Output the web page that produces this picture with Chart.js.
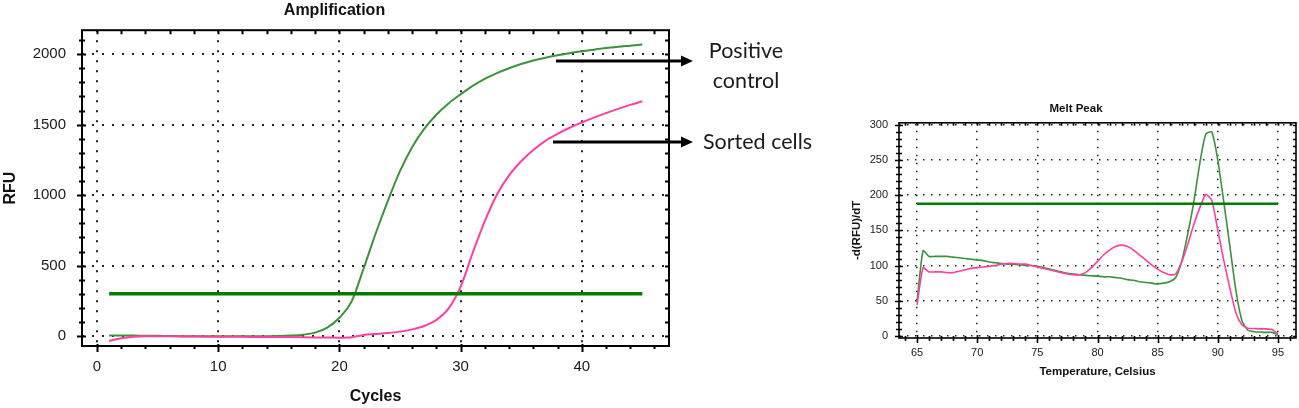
<!DOCTYPE html>
<html>
<head>
<meta charset="utf-8">
<script src="https://cdn.jsdelivr.net/npm/chart.js@4.4.1/dist/chart.umd.min.js"></script>
<style>
  html, body { margin: 0; padding: 0; background: #fff; overflow: hidden; }
  #page { position: relative; width: 1299px; height: 408px; }
  #amp { position: absolute; left: 0; top: 0; }
  #melt { position: absolute; left: 845px; top: 96px; }
  svg { position: absolute; left: 0; top: 0; }
  .note { position: absolute; font-family: Lato, "Open Sans", sans-serif; font-size: 21.5px; line-height: 30px; color: #1a1a1a; white-space: nowrap; }
</style>
</head>
<body>
<div id="page">
  <canvas id="amp" width="680" height="408"></canvas>
  <canvas id="melt" width="454" height="290"></canvas>
  <svg width="1299" height="408">
    <line x1="556" y1="61" x2="683" y2="61" stroke="#000" stroke-width="3"/>
    <polygon points="681,55.5 693,61 681,66.5" fill="#000"/>
    <line x1="553" y1="142" x2="683" y2="142" stroke="#000" stroke-width="3"/>
    <polygon points="681,136.5 693,142 681,147.5" fill="#000"/>
  </svg>
  <div class="note" style="left:696px; top:35px; width:100px; text-align:center">Positive<br>control</div>
  <div class="note" style="left:703px; top:126px">Sorted cells</div>
</div>
<script>
// amplification run
const cycles = [1, 2, 3, 4, 5, 6, 7, 8, 9, 10, 11, 12, 13, 14, 15, 16, 17, 18, 19, 20, 21, 22, 23,
  24, 25, 26, 27, 28, 29, 30, 31, 32, 33, 34, 35, 36, 37, 38, 39, 40, 41, 42, 43, 44, 45];
const positiveControl = [5, 5, 4, 3, 2, 1, 0, 0, 0, 0, 0, 0, 0, 0, 1, 4, 10, 25, 60, 130, 245, 480, 730,
  960, 1170, 1340, 1470, 1570, 1650, 1715, 1775, 1825, 1865, 1900, 1930, 1955, 1975, 1992, 2007, 2020, 2032, 2043, 2052, 2060, 2068];
const sortedCells = [-35, -15, -4, 0, 0, -1, -2, -3, -4, -4, -5, -5, -6, -6, -6, -7, -8, -9, -10, -11, -8, 8, 15,
  22, 32, 48, 72, 115, 195, 350, 590, 815, 1005, 1140, 1240, 1320, 1385, 1435, 1478, 1515, 1550, 1582, 1612, 1640, 1666];
const ampThreshold = 300;
const ampXTicks = [0, 10, 20, 30, 40];
const ampYTicks = [0, 500, 1000, 1500, 2000];

// melt curve
const temps = [65, 65.5, 66, 66.5, 67, 67.5, 68, 68.5, 69, 69.5, 70, 70.5, 71, 71.5, 72, 72.5, 73, 73.5, 74, 74.5,
  75, 75.5, 76, 76.5, 77, 77.5, 78, 78.5, 79, 79.5, 80, 80.5, 81, 81.5, 82, 82.5, 83, 83.5, 84, 84.5,
  85, 85.5, 86, 86.5, 87, 87.5, 88, 88.5, 89, 89.5, 90, 90.5, 91, 91.5, 92, 92.5, 93, 93.5, 94, 94.5, 95];
const meltPositive = [48, 121, 113, 113, 113, 113, 112, 111, 110, 109, 108, 107, 105, 104, 103, 102, 102, 101, 100, 100,
  99, 97, 95, 93, 91, 89, 88, 87, 86, 85.5, 85, 84, 84, 83, 82, 80, 79, 77, 76, 75,
  74, 75, 77, 83, 106, 145, 190, 245, 287, 290, 250, 190, 128, 65, 22, 8, 6, 5.5, 5, 5, 2];
const meltSorted = [44, 97, 91, 91, 91, 90, 90, 92, 94, 96, 97, 98, 99, 100, 102, 103, 103, 102, 102, 100,
  98, 96, 94, 92, 90, 88, 87, 87, 90, 97, 106, 115, 122, 127, 129, 127, 122, 115, 108, 101,
  95, 90, 87, 88, 105, 130, 158, 182, 201, 193, 150, 107, 68, 33, 16, 11, 10.5, 10, 10, 9, 3];
const meltThreshold = 188;
const meltXTicks = [65, 70, 75, 80, 85, 90, 95];
const meltYTicks = [0, 50, 100, 150, 200, 250, 300];

const GREEN = '#3a933a';
const PINK = '#ff3f9f';
const LINE_GREEN = '#007a00';
const FONT = '"Liberation Sans", Arial, sans-serif';

Chart.defaults.color = '#1a1a1a';
Chart.defaults.font.family = FONT;

const pts = (xs, ys) => xs.map((x, i) => ({ x: x, y: ys[i] }));
const plain = v => String(v);

// box round the plot with the small tick marks
const frameTicks = {
  id: 'frameTicks',
  afterDraw(chart, args, o) {
    const { ctx, chartArea: a, scales: { x, y } } = chart;
    ctx.save();
    ctx.strokeStyle = '#000';
    ctx.lineWidth = o.width;
    ctx.strokeRect(a.left, a.top, a.right - a.left, a.bottom - a.top);
    ctx.beginPath();
    for (let i = Math.ceil(x.min / o.xMinor); i * o.xMinor <= x.max; i++) {
      const v = i * o.xMinor;
      const px = Math.round(x.getPixelForValue(v)) + 0.5;
      const t = v % o.xMajor === 0 ? o.xt.major : o.xt.minor;
      ctx.moveTo(px, a.bottom - t[0]);
      ctx.lineTo(px, a.bottom + t[1]);
      ctx.moveTo(px, a.top);
      ctx.lineTo(px, a.top + o.inner);
    }
    for (let i = Math.ceil(y.min / o.yMinor); i * o.yMinor <= y.max; i++) {
      const v = i * o.yMinor;
      const py = Math.round(y.getPixelForValue(v)) + 0.5;
      const t = v % o.yMajor === 0 ? o.yt.major : o.yt.minor;
      ctx.moveTo(a.left - t[1], py);
      ctx.lineTo(a.left + t[0], py);
      ctx.moveTo(a.right, py);
      ctx.lineTo(a.right - o.inner, py);
    }
    ctx.stroke();
    ctx.restore();
  }
};

function ampChart() {
  const el = document.getElementById('amp');
  new Chart(el, {
    type: 'line',
    data: {
      datasets: [{
        label: 'Threshold',
        data: [{ x: cycles[0], y: ampThreshold }, { x: cycles[cycles.length - 1], y: ampThreshold }],
        borderColor: LINE_GREEN,
        borderWidth: 3.5
      }, {
        label: 'Sorted cells',
        data: pts(cycles, sortedCells),
        borderColor: PINK,
        borderWidth: 2,
        cubicInterpolationMode: 'monotone'
      }, {
        label: 'Positive control',
        data: pts(cycles, positiveControl),
        borderColor: GREEN,
        borderWidth: 2,
        cubicInterpolationMode: 'monotone'
      }]
    },
    options: {
      responsive: false,
      animation: false,
      devicePixelRatio: 1,
      elements: { point: { radius: 0 } },
      layout: { padding: { left: 0, right: 11, top: 0, bottom: 0 } },
      plugins: {
        legend: { display: false },
        tooltip: { enabled: false },
        title: {
          display: true,
          text: 'Amplification',
          color: '#111',
          font: { size: 16, weight: 'bold', lineHeight: 1.2 },
          padding: { top: 1, bottom: 10 }
        },
        frameTicks: {
          width: 2, inner: 4,
          xMinor: 2, xMajor: 10, yMinor: 100, yMajor: 500,
          xt: { major: [2, 6], minor: [1, 3] },
          yt: { major: [4, 5], minor: [3, 3] }
        }
      },
      scales: {
        x: {
          type: 'linear',
          min: -1.24,
          max: 47.2,
          afterBuildTicks: s => { s.ticks = ampXTicks.map(v => ({ value: v })); },
          afterFit: s => { s.height = 62; },
          ticks: { font: { size: 15 }, padding: 12, maxRotation: 0, callback: plain },
          grid: { color: '#222', lineWidth: 2, drawTicks: false },
          border: { display: false, dash: [2, 8] },
          title: { display: true, text: 'Cycles', color: '#111', font: { size: 16, weight: 'bold', lineHeight: 1.2 }, padding: { top: 0, bottom: 2 } }
        },
        y: {
          min: -70,
          max: 2170,
          afterBuildTicks: s => { s.ticks = ampYTicks.map(v => ({ value: v })); },
          afterFit: s => { s.width = 82; },
          ticks: { font: { size: 15 }, padding: 16, callback: plain },
          grid: { color: '#222', lineWidth: 2, drawTicks: false },
          border: { display: false, dash: [2, 8] },
          title: { display: true, text: 'RFU', color: '#111', font: { size: 16, weight: 'bold', lineHeight: 1.2 }, padding: { top: 1, bottom: 0 } }
        }
      }
    },
    plugins: [frameTicks]
  });
}

function meltChart() {
  const el = document.getElementById('melt');
  new Chart(el, {
    type: 'line',
    data: {
      datasets: [{
        label: 'Threshold',
        data: [{ x: temps[0], y: meltThreshold }, { x: temps[temps.length - 1], y: meltThreshold }],
        borderColor: LINE_GREEN,
        borderWidth: 2.5
      }, {
        label: 'Sorted cells',
        data: pts(temps, meltSorted),
        borderColor: PINK,
        borderWidth: 1.6,
        tension: 0.2
      }, {
        label: 'Positive control',
        data: pts(temps, meltPositive),
        borderColor: GREEN,
        borderWidth: 1.6,
        tension: 0.2
      }]
    },
    options: {
      responsive: false,
      animation: false,
      devicePixelRatio: 1,
      elements: { point: { radius: 0 } },
      layout: { padding: { left: 11, right: 3, top: 0, bottom: 0 } },
      plugins: {
        legend: { display: false },
        tooltip: { enabled: false },
        title: {
          display: true,
          text: 'Melt Peak',
          color: '#111',
          font: { size: 11.5, weight: 'bold', lineHeight: 1.2 },
          padding: { top: 6, bottom: 7 }
        },
        frameTicks: {
          width: 1.6, inner: 3,
          xMinor: 1, xMajor: 5, yMinor: 10, yMajor: 50,
          xt: { major: [3, 5], minor: [2, 3] },
          yt: { major: [4, 4], minor: [3, 3] }
        }
      },
      scales: {
        x: {
          type: 'linear',
          min: 63.5,
          max: 96.5,
          afterBuildTicks: s => { s.ticks = meltXTicks.map(v => ({ value: v })); },
          afterFit: s => { s.height = 48; },
          ticks: { font: { size: 11 }, padding: 8, maxRotation: 0, callback: plain },
          grid: { color: '#222', lineWidth: 1.5, drawTicks: false },
          border: { display: false, dash: [1.5, 6.5] },
          title: { display: true, text: 'Temperature, Celsius', color: '#111', font: { size: 11.5, weight: 'bold', lineHeight: 1.2 }, padding: { top: 0, bottom: 7 } }
        },
        y: {
          min: -3,
          max: 303,
          afterBuildTicks: s => { s.ticks = meltYTicks.map(v => ({ value: v })); },
          afterFit: s => { s.width = 43; },
          ticks: { font: { size: 11 }, padding: 11, callback: plain },
          grid: { color: '#222', lineWidth: 1.5, drawTicks: false },
          border: { display: false, dash: [1.5, 6.5] },
          title: { display: true, text: '-d(RFU)/dT', color: '#111', font: { size: 11.5, weight: 'bold', lineHeight: 1.2 }, padding: { top: -6, bottom: 0 } }
        }
      }
    },
    plugins: [frameTicks]
  });
}

ampChart()
meltChart()
</script>
</body>
</html>
